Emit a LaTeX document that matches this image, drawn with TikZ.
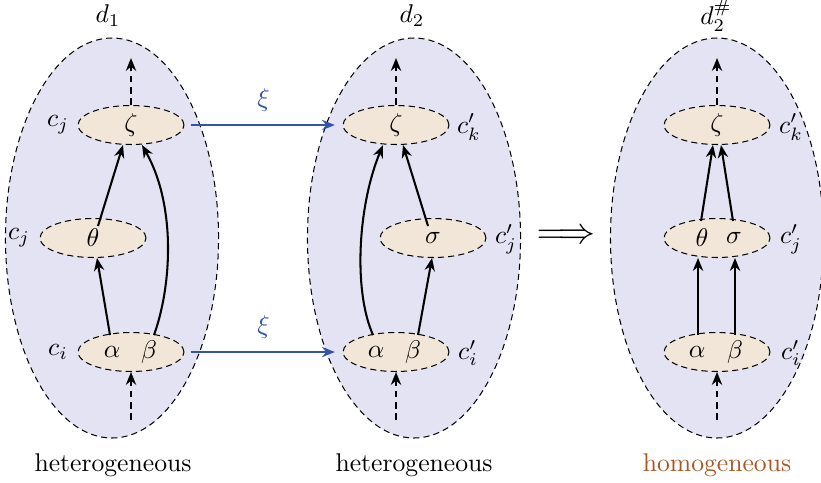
\documentclass[tikz,border=0pt]{standalone}
\usetikzlibrary{shapes.geometric,arrows.meta,calc}
\definecolor{bigfill}{RGB}{227,227,243}
\definecolor{smallfill}{RGB}{241,230,216}
\definecolor{xiblue}{RGB}{52,84,170}
\definecolor{homobrown}{RGB}{170,85,35}
\begin{document}
\begin{tikzpicture}[x=0.39pt,y=-0.39pt,
  big/.style={ellipse, draw, dash pattern=on 2.4pt off 1.6pt, fill=bigfill, minimum width=83.1pt, minimum height=156pt, inner sep=0pt, line width=0.4pt},
  small/.style={ellipse, draw, dash pattern=on 2.4pt off 1.6pt, fill=smallfill, minimum width=41.3pt, minimum height=15.2pt, inner sep=0pt, line width=0.4pt},
  arr/.style={-{Stealth[length=5pt,width=4pt]}, line width=0.8pt},
  darr/.style={arr, dash pattern=on 2.6pt off 1.8pt},
  xiarr/.style={-{Stealth[length=5pt,width=4pt]}, xiblue, line width=0.8pt, shorten <=2.4pt, shorten >=3pt},
  lbl/.style={inner sep=0pt}
]
\useasboundingbox (0,0) rectangle (821,482);
% big ellipses
\node[big] (E1) at (112,238) {};
\node[big] (E2) at (414,238) {};
\node[big] (E3) at (717,238) {};
\node[lbl] (d1) at (108,16) {$d_1$};
\node[lbl] (d2) at (412,16) {$d_2$};
\node[lbl] (d3) at (716,16) {$d_2^{\#}$};
% ---- left
\node[small] (z1) at (131,125) {$\zeta$};
\node[small] (t1) at (93,238) {$\theta$};
\node[small] (ab1) at (131,352) {};
\node[lbl] (a1) at (112,352) {$\alpha$};
\node[lbl] (b1) at (149,352) {$\beta$};
\node[lbl] (cz1) at (58,125) {$c_j$};
\node[lbl] (ct1) at (19,238) {$c_j$};
\node[lbl] (cab1) at (58,352) {$c_i$};
\coordinate (top1) at (131,58);
\coordinate (bot1) at (131,420);
\draw[darr] (z1.north) -- (top1);
\draw[darr] (bot1) -- (ab1.south);
\draw[arr] ($(t1.north)+(5,8)$) -- ($(z1.south)+(-8,0)$);
\draw[arr] ($(ab1.north)+(-21,3)$) -- ($(t1.south)+(4,0)$);
\draw[arr] ($(ab1.north)+(23,3)$) .. controls (172,285) and (176,205) .. ($(z1.south)+(11,0)$);
% ---- middle
\node[small] (z2) at (396,125) {$\zeta$};
\node[small] (s2) at (433,238) {$\sigma$};
\node[small] (ab2) at (396,352) {};
\node[lbl] (a2) at (376,352) {$\alpha$};
\node[lbl] (b2) at (413,352) {$\beta$};
\node[lbl] (cz2) at (469,127) {$c'_k$};
\node[lbl] (cs2) at (506,239) {$c'_j$};
\node[lbl] (cab2) at (468,353) {$c'_i$};
\coordinate (top2) at (396,58);
\coordinate (bot2) at (396,420);
\draw[darr] (z2.north) -- (top2);
\draw[darr] (bot2) -- (ab2.south);
\draw[arr] ($(s2.north)+(-5,8)$) -- ($(z2.south)+(7,0)$);
\draw[arr] ($(ab2.north)+(22,3)$) -- ($(s2.south)+(-1,0)$);
\draw[arr] ($(ab2.north)+(-23,3)$) .. controls (353,290) and (358,205) .. ($(z2.south)+(-13,0)$);
% ---- right
\node[small] (z3) at (717,125) {$\zeta$};
\node[small] (ts3) at (717,238) {};
\node[lbl] (t3) at (702,238) {$\theta$};
\node[lbl] (s3) at (734,238) {$\sigma$};
\node[small] (ab3) at (717,352) {};
\node[lbl] (a3) at (697,352) {$\alpha$};
\node[lbl] (b3) at (735,352) {$\beta$};
\node[lbl] (cz3) at (791,127) {$c'_k$};
\node[lbl] (cs3) at (791,239) {$c'_j$};
\node[lbl] (cab3) at (791,353) {$c'_i$};
\coordinate (top3) at (717,58);
\coordinate (bot3) at (717,420);
\draw[darr] (z3.north) -- (top3);
\draw[darr] (bot3) -- (ab3.south);
\draw[arr] ($(ts3.north)+(-16,3)$) -- ($(z3.south)+(-4,0)$);
\draw[arr] ($(ts3.north)+(16,3)$) -- ($(z3.south)+(4,0)$);
\draw[arr] ($(ab3.north)+(-19,3)$) -- ($(ts3.south)+(-19,0)$);
\draw[arr] ($(ab3.north)+(18,3)$) -- ($(ts3.south)+(18,0)$);
% ---- connectors between
\draw[xiarr] (z1.east) -- node[above=1.5pt, text=xiblue] (xi1) {$\xi$} (z2.west);
\draw[xiarr] (ab1.east) -- node[above=1.5pt, text=xiblue] (xi2) {$\xi$} (ab2.west);
\node (imp) at (566,237) {\Large$\Longrightarrow$};
% ---- captions
\node (h1) at (113,465) {heterogeneous};
\node (h2) at (414,465) {heterogeneous};
\node[text=homobrown] (h3) at (717,465) {homogeneous};
\end{tikzpicture}
\end{document}
